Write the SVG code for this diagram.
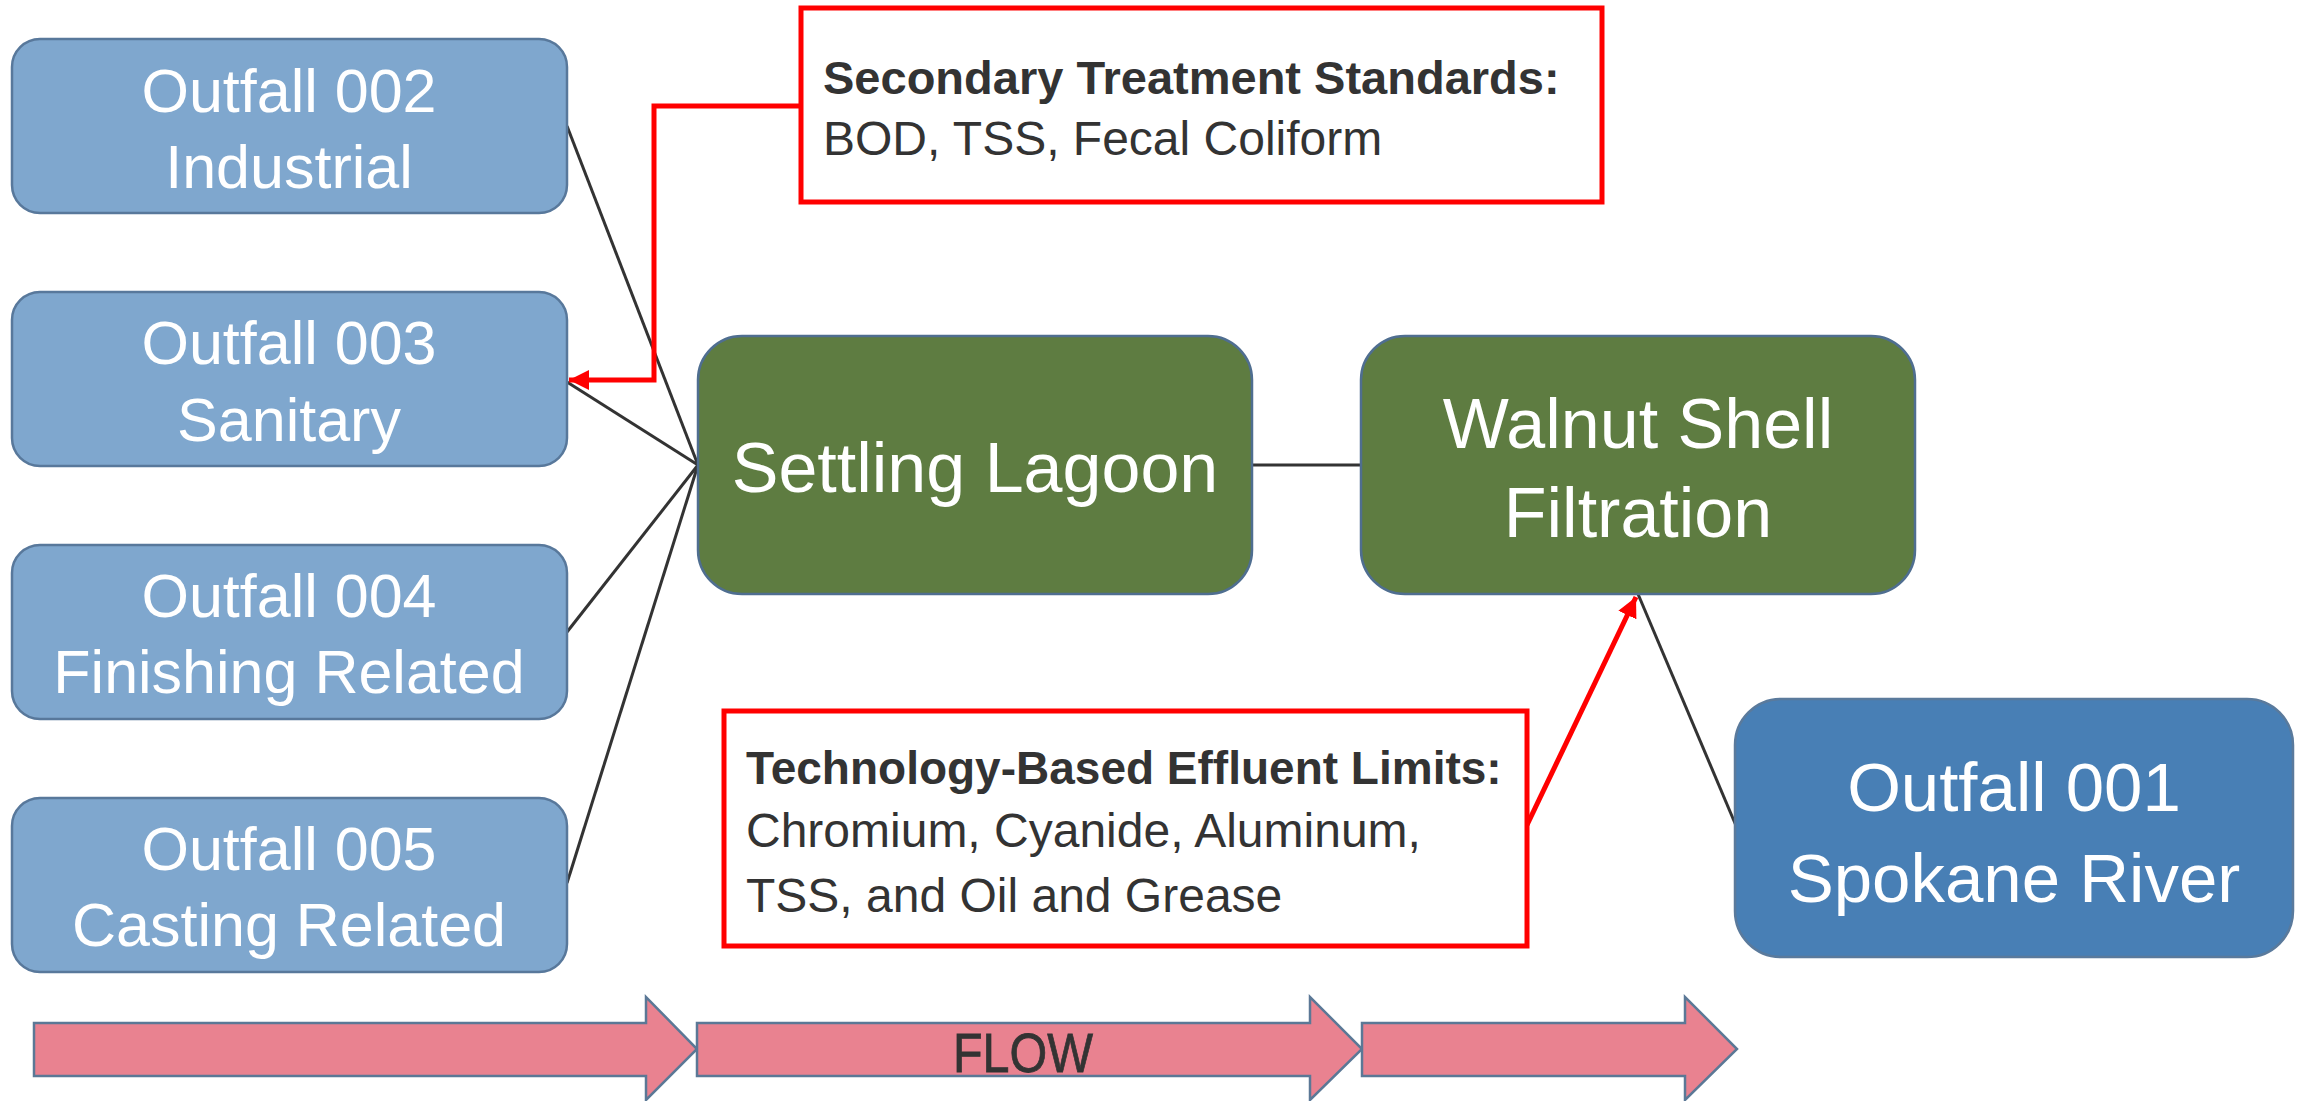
<svg xmlns="http://www.w3.org/2000/svg" width="2300" height="1101" viewBox="0 0 2300 1101">
  <defs>
    <style>
      .src { fill: #7fa7ce; stroke: #58789b; stroke-width: 2.5; }
      .proc { fill: #5e7c41; stroke: #4f6e90; stroke-width: 2.5; }
      .dest { fill: #487fb5; stroke: #5a7a9c; stroke-width: 2.5; }
      .lbl { font-family: "Liberation Sans", Arial, sans-serif; fill: #ffffff; text-anchor: middle; }
      .note { fill: #ffffff; stroke: #ff0000; stroke-width: 5; }
      .ntxt { font-family: "Liberation Sans", Arial, sans-serif; fill: #333333; font-size: 48px; }
      .nhead { font-weight: bold; font-size: 47px; }
      .link { fill: none; stroke: #333333; stroke-width: 3; }
      .redlink { fill: none; stroke: #ff0000; stroke-width: 5; }
      .flow { fill: #e98290; stroke: #5b7896; stroke-width: 2.5; stroke-linejoin: miter; }
    </style>
    <marker id="redHead" markerUnits="userSpaceOnUse" markerWidth="22" markerHeight="20" refX="20" refY="10" orient="auto">
      <path d="M0,0 L20,10 L0,20 z" fill="#ff0000"/>
    </marker>
  </defs>

  <rect width="2300" height="1101" fill="#ffffff"/>

  <!-- flow arrows along the bottom -->
  <g id="flow-arrows">
    <path class="flow" d="M34,1023 H646 V997 L697,1049 L646,1100 V1076 H34 Z"/>
    <path class="flow" d="M697,1023 H1310 V997 L1362,1049 L1310,1100 V1076 H697 Z"/>
    <path class="flow" d="M1362,1023 H1685 V997 L1737,1049 L1685,1100 V1076 H1362 Z"/>
    <text x="1023" y="1072" font-family="Liberation Sans, Arial, sans-serif" font-size="56" fill="#333333" stroke="#333333" stroke-width="0.8" text-anchor="middle" textLength="140" lengthAdjust="spacingAndGlyphs">FLOW</text>
  </g>

  <!-- connectors -->
  <g id="connectors">
    <path class="link" d="M567,126 L698,465"/>
    <path class="link" d="M567,382 L698,465"/>
    <path class="link" d="M567,632 L698,465"/>
    <path class="link" d="M567,883 L698,465"/>
    <path class="link" d="M1252,465 H1361"/>
    <path class="link" d="M1638,594 L1737,828"/>
    <path class="redlink" d="M801,106 H654 V380 H569" marker-end="url(#redHead)"/>
    <path class="redlink" d="M1527,825 L1636,597" marker-end="url(#redHead)"/>
  </g>

  <!-- source outfalls -->
  <g id="outfall-002">
    <rect class="src" x="12" y="39" width="555" height="174" rx="28"/>
    <text class="lbl" x="289" y="112" font-size="61">Outfall 002</text>
    <text class="lbl" x="289" y="188" font-size="61">Industrial</text>
  </g>
  <g id="outfall-003">
    <rect class="src" x="12" y="292" width="555" height="174" rx="28"/>
    <text class="lbl" x="289" y="364" font-size="61">Outfall 003</text>
    <text class="lbl" x="289" y="441" font-size="61">Sanitary</text>
  </g>
  <g id="outfall-004">
    <rect class="src" x="12" y="545" width="555" height="174" rx="28"/>
    <text class="lbl" x="289" y="617" font-size="61">Outfall 004</text>
    <text class="lbl" x="289" y="693" font-size="61">Finishing Related</text>
  </g>
  <g id="outfall-005">
    <rect class="src" x="12" y="798" width="555" height="174" rx="28"/>
    <text class="lbl" x="289" y="870" font-size="61">Outfall 005</text>
    <text class="lbl" x="289" y="946" font-size="61">Casting Related</text>
  </g>

  <!-- treatment steps -->
  <g id="settling-lagoon">
    <rect class="proc" x="698" y="336" width="554" height="258" rx="44"/>
    <text class="lbl" x="975" y="492" font-size="70">Settling Lagoon</text>
  </g>
  <g id="walnut-shell-filtration">
    <rect class="proc" x="1361" y="336" width="554" height="258" rx="44"/>
    <text class="lbl" x="1638" y="448" font-size="70">Walnut Shell</text>
    <text class="lbl" x="1638" y="537" font-size="70">Filtration</text>
  </g>

  <!-- discharge -->
  <g id="outfall-001">
    <rect class="dest" x="1735" y="699" width="558" height="258" rx="46"/>
    <text class="lbl" x="2014" y="811" font-size="69">Outfall 001</text>
    <text class="lbl" x="2014" y="902" font-size="69">Spokane River</text>
  </g>

  <!-- limit callouts -->
  <g id="secondary-standards">
    <rect class="note" x="801" y="8" width="801" height="194"/>
    <text class="ntxt nhead" x="823" y="94">Secondary Treatment Standards:</text>
    <text class="ntxt" x="823" y="155">BOD, TSS, Fecal Coliform</text>
  </g>
  <g id="technology-limits">
    <rect class="note" x="724" y="711" width="803" height="235"/>
    <text class="ntxt nhead" x="746" y="784" font-size="46" style="font-size:46px">Technology-Based Effluent Limits:</text>
    <text class="ntxt" x="746" y="847">Chromium, Cyanide, Aluminum,</text>
    <text class="ntxt" x="746" y="912">TSS, and Oil and Grease</text>
  </g>
</svg>
